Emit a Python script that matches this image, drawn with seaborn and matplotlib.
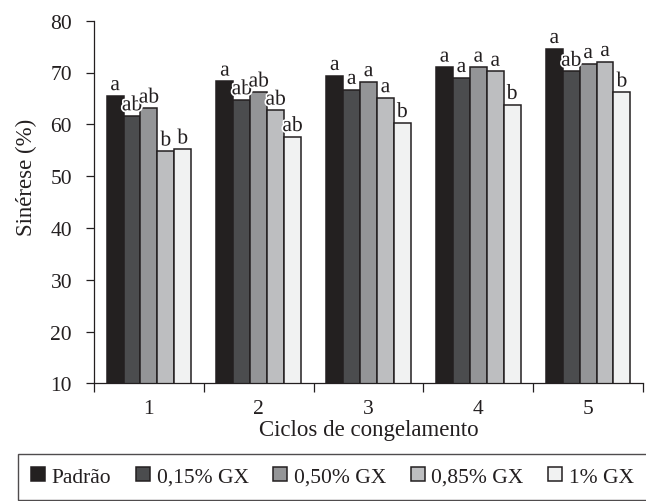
import pandas as pd
import matplotlib
matplotlib.use("Agg")
import matplotlib.pyplot as plt
import matplotlib.patheffects as pe
from matplotlib.ticker import FixedLocator
import seaborn as sns

ciclos = ["1", "2", "3", "4", "5"]
tratamentos = ["Padrão", "0,15% GX", "0,50% GX", "0,85% GX", "1% GX"]

padrao = [65.5, 68.3, 69.4, 71.0, 74.6]
gx015 = [61.6, 64.7, 66.7, 69.0, 70.2]
gx050 = [63.1, 66.2, 68.2, 71.0, 71.7]
gx085 = [54.8, 62.7, 65.1, 70.2, 72.1]
gx1 = [55.2, 57.6, 60.3, 63.8, 66.2]

letras_padrao = ["a", "a", "a", "a", "a"]
letras_015 = ["ab", "ab", "a", "a", "ab"]
letras_050 = ["ab", "ab", "a", "a", "a"]
letras_085 = ["b", "ab", "a", "a", "a"]
letras_1 = ["b", "ab", "b", "b", "b"]

cores = ["#231f20", "#4b4c4e", "#939598", "#bcbec0", "#f1f2f2"]

valores = [padrao, gx015, gx050, gx085, gx1]
letras = [letras_padrao, letras_015, letras_050, letras_085, letras_1]

linhas = []
for t, vals in zip(tratamentos, valores):
    for c, v in zip(ciclos, vals):
        linhas.append({"ciclo": c, "tratamento": t, "sinerese": v})
df = pd.DataFrame(linhas)

sns.set_style("ticks")
plt.rcParams["font.family"] = ["Liberation Serif", "DejaVu Serif"]
plt.rcParams["font.size"] = 15

fig = plt.figure(figsize=(6.46, 5.02), dpi=100)
ax = fig.add_axes([94 / 646, 1 - 384.3 / 502, 549 / 646, 362.6 / 502])

sns.barplot(data=df, x="ciclo", y="sinerese", hue="tratamento",
            hue_order=tratamentos, palette=cores, width=0.77, gap=0,
            edgecolor="#231f20", linewidth=1.1, legend=False, ax=ax)

for cont, labs in zip(ax.containers, letras):
    for bar, lab in zip(cont, labs):
        ax.annotate(lab, (bar.get_x() + bar.get_width() / 2, bar.get_height()),
                    xytext=(0, 0.5), textcoords="offset points",
                    ha="center", va="bottom", fontsize=15.5, color="#231f20",
                    path_effects=[pe.withStroke(linewidth=2.5, foreground="white")])

ax.set_ylim(10, 80)
ax.set_yticks(range(10, 81, 10))
ax.set_xlim(-0.5, 4.5)
ax.xaxis.set_minor_locator(FixedLocator([-0.5, 0.5, 1.5, 2.5, 3.5, 4.5]))
ax.tick_params(axis="x", which="major", length=0, pad=11, labelsize=15.5, colors="#231f20")
ax.tick_params(axis="x", which="minor", length=6.5, width=0.9, direction="out", color="#231f20")
ax.tick_params(axis="y", length=5.8, width=0.9, pad=10, labelsize=15.5, colors="#231f20")

sns.despine(ax=ax)
for s in ["left", "bottom"]:
    ax.spines[s].set_color("#231f20")
    ax.spines[s].set_linewidth(0.9)

ax.set_xlabel("Ciclos de congelamento", fontsize=16.5, color="#231f20", labelpad=1)
ax.set_ylabel("Sinérese (%)", fontsize=16.5, color="#231f20")
ax.yaxis.set_label_coords(-0.104, 0.57)

leg = fig.legend(ax.containers, tratamentos, loc="center", bbox_to_anchor=(0.5147, 0.048),
                 ncol=5, frameon=True, fancybox=False, edgecolor="#231f20",
                 handlelength=0.65, handleheight=0.65, handletextpad=0.3,
                 columnspacing=1.15, borderpad=0.6, fontsize=15.5)
leg.get_frame().set_linewidth(1.0)
for t in leg.get_texts():
    t.set_color("#231f20")

fig.savefig("out.png", dpi=100)
